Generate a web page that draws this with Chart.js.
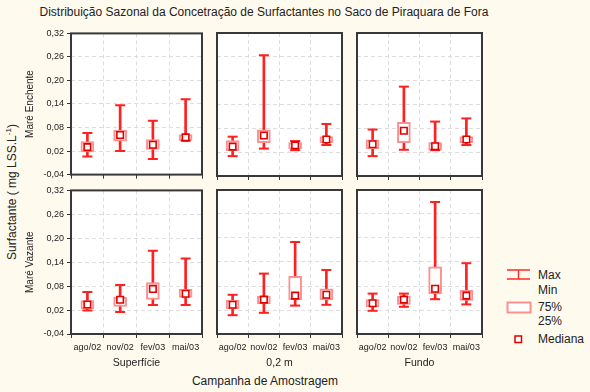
<!DOCTYPE html>
<html><head><meta charset="utf-8">
<script src="https://cdn.jsdelivr.net/npm/chart.js@4.4.1/dist/chart.umd.min.js"></script>
<style>
body{margin:0;background:#fffaee;width:590px;height:392px;overflow:hidden;position:relative;font-family:"Liberation Sans",Arial,sans-serif;color:#222}
canvas{position:absolute}
.t{position:absolute;white-space:nowrap;line-height:1}
svg{position:absolute}
</style></head><body>
<script>
// ---- data ----
const categories = ['ago/02','nov/02','fev/03','mai/03'];
const groups = ['Superfície','0,2 m','Fundo'];
const tides = ['Maré Enchente','Maré Vazante'];
const yTicks = [-0.04, 0.02, 0.08, 0.14, 0.20, 0.26, 0.32];

// Maré Enchente – Superfície
const encSupMin = [0.006, 0.020, 0.000, 0.046];
const encSupQ1  = [0.018, 0.045, 0.024, 0.047];
const encSupMed = [0.030, 0.061, 0.036, 0.055];
const encSupQ3  = [0.044, 0.073, 0.049, 0.062];
const encSupMax = [0.066, 0.137, 0.097, 0.152];
// Maré Enchente – 0,2 m
const enc02Min = [0.010, 0.029, 0.025, 0.038];
const enc02Q1  = [0.024, 0.044, 0.028, 0.044];
const enc02Med = [0.034, 0.062, 0.037, 0.052];
const enc02Q3  = [0.049, 0.076, 0.044, 0.059];
const enc02Max = [0.059, 0.264, 0.048, 0.091];
// Maré Enchente – Fundo
const encFunMin = [0.010, 0.026, 0.025, 0.038];
const encFunQ1  = [0.029, 0.044, 0.025, 0.044];
const encFunMed = [0.040, 0.074, 0.035, 0.052];
const encFunQ3  = [0.051, 0.095, 0.044, 0.059];
const encFunMax = [0.077, 0.185, 0.097, 0.105];
// Maré Vazante – Superfície
const vazSupMin = [0.019, 0.015, 0.033, 0.033];
const vazSupQ1  = [0.023, 0.029, 0.047, 0.052];
const vazSupMed = [0.034, 0.046, 0.073, 0.061];
const vazSupQ3  = [0.044, 0.052, 0.089, 0.072];
const vazSupMax = [0.065, 0.083, 0.169, 0.149];
// Maré Vazante – 0,2 m
const vaz02Min = [0.007, 0.013, 0.031, 0.033];
const vaz02Q1  = [0.023, 0.036, 0.046, 0.046];
const vaz02Med = [0.033, 0.046, 0.056, 0.058];
const vaz02Q3  = [0.044, 0.054, 0.104, 0.073];
const vaz02Max = [0.058, 0.111, 0.190, 0.120];
// Maré Vazante – Fundo
const vazFunMin = [0.018, 0.028, 0.047, 0.034];
const vazFunQ1  = [0.028, 0.034, 0.061, 0.044];
const vazFunMed = [0.037, 0.046, 0.073, 0.056];
const vazFunQ3  = [0.046, 0.054, 0.128, 0.069];
const vazFunMax = [0.061, 0.061, 0.290, 0.137];

const panelData = [
  [[encSupMin,encSupQ1,encSupMed,encSupQ3,encSupMax],[enc02Min,enc02Q1,enc02Med,enc02Q3,enc02Max],[encFunMin,encFunQ1,encFunMed,encFunQ3,encFunMax]],
  [[vazSupMin,vazSupQ1,vazSupMed,vazSupQ3,vazSupMax],[vaz02Min,vaz02Q1,vaz02Med,vaz02Q3,vaz02Max],[vazFunMin,vazFunQ1,vazFunMed,vazFunQ3,vazFunMax]]
];
</script>

<div class="t" style="left:0;width:528px;top:6px;text-align:center;font-size:12px">Distribuição Sazonal da Concetração de Surfactantes no Saco de Piraquara de Fora</div>
<div class="t" style="left:11px;top:192px;font-size:12px;transform:translate(-50%,-50%) rotate(-90deg)">Surfactante ( mg LSS.L<sup style="font-size:8px">-1</sup>)</div>
<div class="t" style="left:180px;width:170px;top:375px;text-align:center;font-size:12px">Campanha de Amostragem</div>

<svg style="left:505px;top:267px" width="28" height="50">
  <g stroke="#ff2a2a" stroke-width="1.5" fill="none">
    <line x1="2" y1="3" x2="25" y2="3"/><line x1="2" y1="12" x2="25" y2="12"/><line x1="13.5" y1="3" x2="13.5" y2="12"/>
  </g>
  <rect x="2.5" y="35.5" width="23" height="10" fill="#fff" stroke="#ff8f8f" stroke-width="2"/>
</svg>
<svg style="left:513px;top:334px" width="11" height="11"><rect x="2" y="2" width="6.5" height="6.5" fill="#fff" stroke="#e00000" stroke-width="1.5"/></svg>
<div class="t" style="left:538px;top:269px;font-size:12px">Max</div>
<div class="t" style="left:538px;top:284px;font-size:12px">Min</div>
<div class="t" style="left:538px;top:301px;font-size:12px">75%</div>
<div class="t" style="left:538px;top:315px;font-size:12px">25%</div>
<div class="t" style="left:538px;top:333px;font-size:12px">Mediana</div>

<script>
const plotLeft = [71, 212, 352];
const plotW = [136, 135, 135];
const plotTop = [33, 190];
const plotH = [145, 144];
const FONT = '"Liberation Sans", Arial, sans-serif';

const framePlugin = {
  id: 'frame',
  beforeDraw(c) {
    const a = c.chartArea, x = c.ctx;
    x.save(); x.fillStyle = '#ffffff'; x.fillRect(a.left, a.top, a.width, a.height); x.restore();
  },
  afterDraw(c) {
    const a = c.chartArea, x = c.ctx;
    x.save(); x.strokeStyle = '#383838'; x.lineWidth = 2; x.strokeRect(a.left, a.top, a.width, a.height); x.restore();
  }
};

function makePanel(row, col) {
  const [mins, q1, med, q3, maxs] = panelData[row][col];
  const yW = col === 0 ? 71 : 0;
  const padL = col === 0 ? 0 : 2, padR = 2, padT = 8;
  const xH = row === 0 ? 5 : 37;
  const cv = document.createElement('canvas');
  const w = padL + yW + plotW[col] + padR;
  const h = padT + plotH[row] + xH;
  cv.width = w; cv.height = h;
  cv.style.left = (plotLeft[col] - yW - padL) + 'px';
  cv.style.top = (plotTop[row] - padT) + 'px';
  document.body.appendChild(cv);

  new Chart(cv, {
    type: 'bar',
    data: {
      labels: categories,
      datasets: [
        { type: 'bar', data: categories.map((_, i) => [mins[i], maxs[i]]), backgroundColor: '#ff2020',
          barThickness: 2, grouped: false, order: 4 },
        { type: 'bar', data: categories.map((_, i) => [q1[i], q3[i]]), backgroundColor: '#ffffff',
          borderColor: '#ff9090', borderWidth: 2, borderSkipped: false, barThickness: 13, grouped: false, order: 3 },
        { type: 'line', data: maxs, showLine: false, pointStyle: 'line', pointRadius: 5,
          pointBorderColor: '#ff2020', pointBorderWidth: 2, order: 2 },
        { type: 'line', data: mins, showLine: false, pointStyle: 'line', pointRadius: 5,
          pointBorderColor: '#ff2020', pointBorderWidth: 2, order: 2 },
        { type: 'line', data: med, showLine: false, pointStyle: 'rect', pointRadius: 4.6,
          pointBackgroundColor: '#ffffff', pointBorderColor: '#e00000', pointBorderWidth: 1.6, order: 1 }
      ]
    },
    options: {
      responsive: false, animation: false, devicePixelRatio: 1,
      layout: { padding: { top: padT, right: padR, left: padL, bottom: 0 } },
      plugins: { legend: { display: false }, tooltip: { enabled: false } },
      scales: {
        x: {
          type: 'category', offset: true,
          grid: { offset: true, color: '#dddddd', lineWidth: 1, tickColor: '#333', tickLength: 4, tickWidth: 1 },
          border: { display: false, dash: [4, 3] },
          ticks: { display: row === 1, font: { family: FONT, size: 9 }, color: '#222', padding: 4, maxRotation: 0, autoSkip: false },
          title: { display: row === 1, text: groups[col], font: { family: FONT, size: 10.5 }, color: '#222', padding: { top: 0, bottom: 2 } },
          afterFit: s => { s.height = xH; }
        },
        y: {
          min: -0.04, max: 0.32,
          afterBuildTicks: s => { s.ticks = yTicks.map(v => ({ value: v })); },
          grid: { color: '#dddddd', lineWidth: 1, tickColor: '#333', tickLength: 4, drawTicks: col === 0 },
          border: { display: false, dash: [4, 3] },
          ticks: { display: col === 0, font: { family: FONT, size: 9 }, color: '#222', padding: 3,
                   callback: v => v.toFixed(2).replace('.', ',') },
          title: { display: col === 0, text: tides[row], font: { family: FONT, size: 10 }, color: '#222', padding: { top: 24, bottom: 0 } },
          afterFit: s => { s.width = yW; }
        }
      }
    },
    plugins: [framePlugin]
  });
}

for (let r = 0; r < 2; r++) for (let c = 0; c < 3; c++) makePanel(r, c);
</script>
</body></html>
